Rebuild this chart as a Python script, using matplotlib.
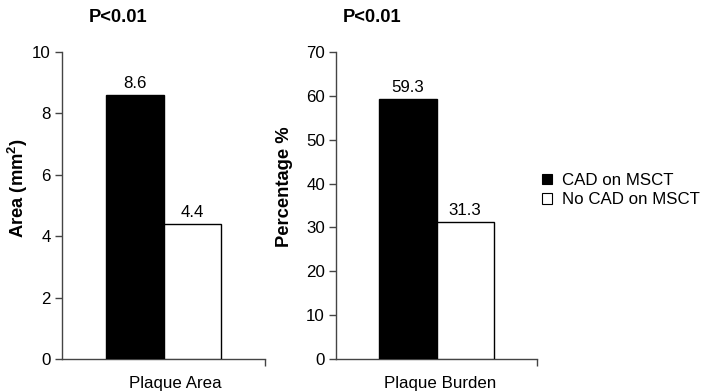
import matplotlib
matplotlib.use("Agg")
import matplotlib.pyplot as plt
from matplotlib.patches import Patch

plt.rcParams["font.family"] = ["Liberation Sans", "DejaVu Sans"]
plt.rcParams["mathtext.fontset"] = "custom"
plt.rcParams["mathtext.rm"] = "Liberation Sans"
plt.rcParams["mathtext.bf"] = "Liberation Sans:bold"

groups = ["CAD on MSCT", "No CAD on MSCT"]
area_values = [8.6, 4.4]
burden_values = [59.3, 31.3]
area_ticks = [0, 2, 4, 6, 8, 10]
burden_ticks = [0, 10, 20, 30, 40, 50, 60, 70]
bar_colors = ["black", "white"]

W, H = 702, 391
fig = plt.figure(figsize=(W / 100, H / 100), dpi=100)

FS = 12.2
FS_BOLD = 13.2
AXIS_COLOR = "#444444"


def setup_panel(rect, values, ticks, ylabel, xlabel, xlabel_x, ylabel_pos):
    ax = fig.add_axes(rect)
    width = 0.285
    xs = [0.5 - width / 2, 0.5 + width / 2]
    ax.bar(xs, values, width=width, color=bar_colors, edgecolor="black", linewidth=1.0, zorder=3)
    for x, v in zip(xs, values):
        ax.annotate(f"{v:g}", (x, v), xytext=(0, 3), textcoords="offset points",
                    ha="center", va="bottom", fontsize=FS)
    ax.set_xlim(0, 1)
    ax.set_ylim(ticks[0], ticks[-1])
    ax.set_yticks(ticks)
    ax.set_xticks([1])
    ax.set_xticklabels([""])
    ax.spines["top"].set_visible(False)
    ax.spines["right"].set_visible(False)
    for side in ("left", "bottom"):
        ax.spines[side].set_color(AXIS_COLOR)
        ax.spines[side].set_linewidth(1.0)
    ax.tick_params(axis="both", direction="out", length=5, width=1.0, color=AXIS_COLOR,
                   labelsize=FS, pad=3)
    ax.set_ylabel(ylabel, fontsize=FS_BOLD, fontweight="bold")
    ax.yaxis.set_label_coords(*ylabel_pos)
    ax.text(xlabel_x, -0.08, xlabel, transform=ax.transAxes, ha="center", va="center", fontsize=FS)
    return ax


ax1 = setup_panel([62 / W, 1 - 359 / H, 203 / W, 307 / H], area_values, area_ticks,
                  r"Area (mm$^\mathbf{2}$)", "Plaque Area", 0.56, (-0.16, 0.557))
ax2 = setup_panel([336 / W, 1 - 359 / H, 201 / W, 307 / H], burden_values, burden_ticks,
                  "Percentage %", "Plaque Burden", 0.52, (-0.214, 0.56))

fig.text(118 / W, 1 - 18 / H, "P<0.01", ha="center", va="center", fontsize=FS_BOLD, fontweight="bold")
fig.text(372 / W, 1 - 18 / H, "P<0.01", ha="center", va="center", fontsize=FS_BOLD, fontweight="bold")

handles = [Patch(facecolor=c, edgecolor="black", linewidth=0.8) for c in bar_colors]
fig.legend(handles, groups, loc="center left", bbox_to_anchor=(542 / W, 1 - 190 / H),
           frameon=False, fontsize=FS, handlelength=0.6, handleheight=0.6,
           handletextpad=0.6, labelspacing=0.25, borderaxespad=0, borderpad=0)

fig.savefig("out.png", dpi=100)
